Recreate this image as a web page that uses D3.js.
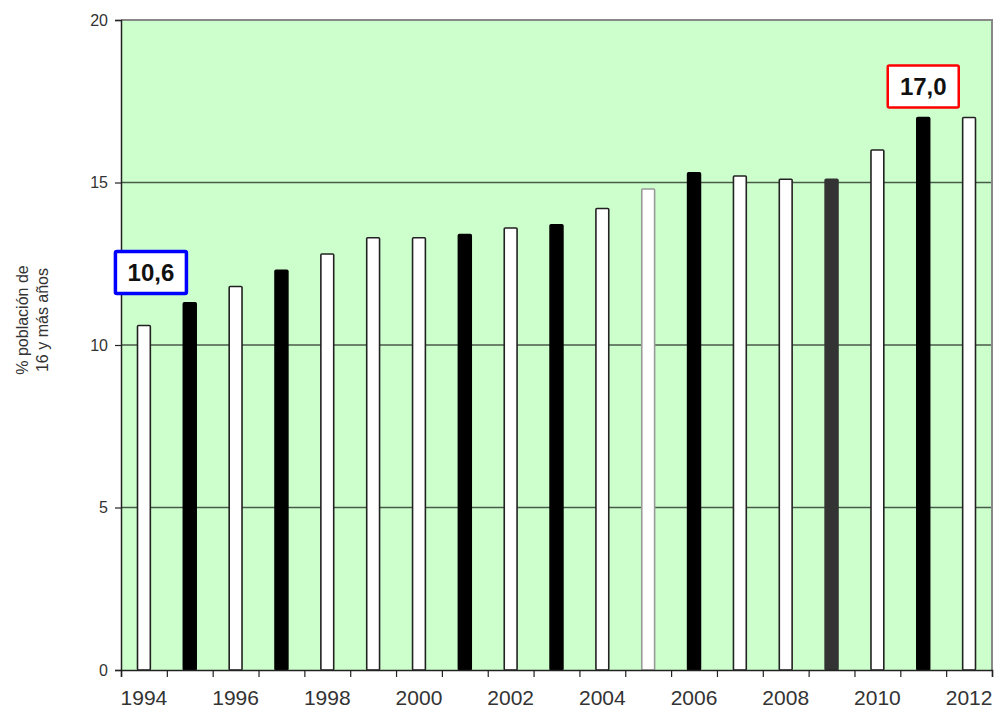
<!DOCTYPE html>
<html>
<head>
<meta charset="utf-8">
<script src="https://cdn.jsdelivr.net/npm/d3@7"></script>
<style>
  html, body { margin: 0; padding: 0; background: #ffffff; }
  svg { display: block; font-family: Arial, "Liberation Sans", sans-serif; }
</style>
</head>
<body>
<svg id="chart" width="996" height="713"></svg>
<script>
// ---- data ----
const years = [1994,1995,1996,1997,1998,1999,2000,2001,2002,2003,2004,2005,2006,2007,2008,2009,2010,2011,2012];
const values = [10.6,11.3,11.8,12.3,12.8,13.3,13.3,13.4,13.6,13.7,14.2,14.8,15.3,15.2,15.1,15.1,16.0,17.0,17.0];
const barFills = ["#ffffff","#000000","#ffffff","#000000","#ffffff","#ffffff","#ffffff","#000000","#ffffff","#000000","#ffffff","#ffffff","#000000","#ffffff","#ffffff","#333333","#ffffff","#000000","#ffffff"];
const barStrokes = ["#222","#000","#222","#000","#222","#222","#222","#000","#222","#000","#222","#999","#000","#222","#222","#333","#222","#000","#222"];
const yTicks = [0,5,10,15,20];
const xLabelYears = [1994,1996,1998,2000,2002,2004,2006,2008,2010,2012];
const yTitle = ["% población de", "16 y más años"];
const callouts = [
  { year: 1994, value: 10.6, text: "10,6", color: "#0000ff", width: 3.5, dx: 7, gap: 32 },
  { year: 2011, value: 17.0, text: "17,0", color: "#ff0000", width: 2.5, dx: 0, gap: 10 }
];

// ---- layout ----
const mLeft = 121, mRight = 992, mTop = 20, mBottom = 670;
const svg = d3.select("#chart");

const x = d3.scaleBand().domain(years).range([mLeft, mRight]).paddingInner(0.72).paddingOuter(0.36);
const xEdge = d3.scaleLinear().domain([0, years.length]).range([mLeft, mRight]);
const y = d3.scaleLinear().domain([0, 20]).range([mBottom, mTop]);

// plot background
svg.append("rect")
  .attr("x", mLeft).attr("y", mTop)
  .attr("width", mRight - mLeft).attr("height", mBottom - mTop)
  .attr("fill", "#ccffcc");

// gridlines
svg.append("g").selectAll("line")
  .data(yTicks.filter(d => d > 0 && d < 20))
  .join("line")
  .attr("x1", mLeft).attr("x2", mRight)
  .attr("y1", d => y(d)).attr("y2", d => y(d))
  .attr("stroke", "#4a5a4a").attr("stroke-width", 1.5);

// top & right border
svg.append("path")
  .attr("d", `M${mLeft},${mTop}H${mRight}V${mBottom}`)
  .attr("fill", "none").attr("stroke", "#888888").attr("stroke-width", 2);

// bars
svg.append("g").selectAll("rect")
  .data(years.map((yr, i) => ({ yr, v: values[i], fill: barFills[i], stroke: barStrokes[i] })))
  .join("rect")
  .attr("x", d => x(d.yr))
  .attr("y", d => y(d.v))
  .attr("width", x.bandwidth())
  .attr("height", d => y(0) - y(d.v))
  .attr("fill", d => d.fill)
  .attr("stroke", d => d.stroke)
  .attr("stroke-width", 1.6)
  .attr("rx", 1);

// y axis
const yAxis = svg.append("g")
  .attr("transform", `translate(${mLeft},0)`)
  .call(d3.axisLeft(y).tickValues(yTicks).tickSize(6).tickPadding(7));
yAxis.select(".domain").attr("stroke", "#222").attr("stroke-width", 1.5);
yAxis.selectAll(".tick line").attr("stroke", "#222").attr("stroke-width", 1.2);
yAxis.selectAll(".tick text").attr("fill", "#333").style("font-size", "16px")
  .style("font-family", "Arial, 'Liberation Sans', sans-serif");

// x axis: boundary ticks
const xAxis = svg.append("g")
  .attr("transform", `translate(0,${mBottom})`)
  .call(d3.axisBottom(xEdge).tickValues(d3.range(years.length + 1)).tickSize(7).tickFormat(""));
xAxis.select(".domain").attr("stroke", "#222").attr("stroke-width", 1.5);
xAxis.selectAll(".tick line").attr("stroke", "#222").attr("stroke-width", 1.2);

// x labels (band centers)
const xLab = svg.append("g")
  .attr("transform", `translate(0,${mBottom})`)
  .call(d3.axisBottom(x).tickValues(xLabelYears).tickSize(0).tickPadding(20));
xLab.select(".domain").remove();
xLab.selectAll(".tick text").attr("fill", "#333").style("font-size", "21px")
  .style("font-family", "Arial, 'Liberation Sans', sans-serif");

// y title
const yt = svg.append("text")
  .attr("transform", "translate(31,320) rotate(-90)")
  .attr("text-anchor", "middle")
  .attr("fill", "#333")
  .style("font-size", "16px");
yTitle.forEach((t, i) => {
  yt.append("tspan").attr("x", 0).attr("dy", i === 0 ? "-0.2em" : "1.25em").text(t);
});

// callouts
const bw = 71, bh = 42;
callouts.forEach(c => {
  const cx = x(c.year) + x.bandwidth() / 2 + c.dx;
  const by = y(c.value) - c.gap - bh;
  svg.append("rect")
    .attr("x", cx - bw / 2).attr("y", by)
    .attr("width", bw).attr("height", bh)
    .attr("fill", "#ffffff")
    .attr("stroke", c.color).attr("stroke-width", c.width)
    .attr("rx", 1.5);
  svg.append("text")
    .attr("x", cx).attr("y", by + bh / 2 + 8.5)
    .attr("text-anchor", "middle")
    .attr("fill", "#111")
    .style("font-size", "24px").style("font-weight", "bold")
    .text(c.text);
});
</script>
</body>
</html>
